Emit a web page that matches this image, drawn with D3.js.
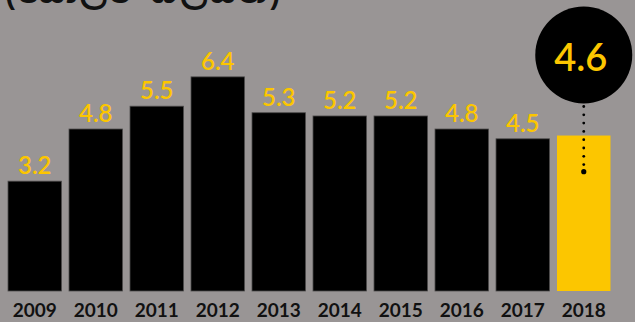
<!DOCTYPE html>
<html>
<head>
<meta charset="utf-8">
<script src="https://cdn.jsdelivr.net/npm/d3@7"></script>
<style>
  html, body { margin: 0; padding: 0; background: #999595; }
  svg { display: block; }
</style>
</head>
<body>
<svg id="chart" width="635" height="322"></svg>
<script>
// Annual values, USD billions
const years = ["2009", "2010", "2011", "2012", "2013", "2014", "2015", "2016", "2017", "2018"];
const values = [3.2, 4.8, 5.5, 6.4, 5.3, 5.2, 5.2, 4.8, 4.5, 4.6];
const valueLabels = ["3.2", "4.8", "5.5", "6.4", "5.3", "5.2", "5.2", "4.8", "4.5", "4.6"];
const unitTitle = "(ඩොලර් බිලියන)";
const highlightYear = "2018";

const W = 635, H = 322;
const baseline = 291;
const svg = d3.select("#chart");

svg.append("rect").attr("width", W).attr("height", H).attr("fill", "#999595");

const x = d3.scaleBand().domain(years).range([8, 610.5]).paddingInner(0.123).paddingOuter(0);
const y = d3.scaleLinear().domain([0, 7]).range([285.5, 285.5 - 32.6 * 7]);

const data = years.map((yr, i) => ({ year: yr, value: values[i], label: valueLabels[i] }));

// unit title, partly above the top edge
svg.append("text")
  .attr("x", 5).attr("y", 3)
  .attr("font-family", "'Noto Sans Sinhala', 'Noto Sans', sans-serif")
  .attr("font-weight", 700).attr("font-size", 31)
  .attr("letter-spacing", 1.6)
  .attr("fill", "#111")
  .text(unitTitle);

// bars
svg.append("g").selectAll("rect").data(data).join("rect")
  .attr("x", d => x(d.year))
  .attr("y", d => y(d.value))
  .attr("width", x.bandwidth())
  .attr("height", d => baseline - y(d.value))
  .attr("fill", d => d.year === highlightYear ? "#fcc600" : "#000")
  .attr("stroke", d => d.year === highlightYear ? "none" : "#4d4b4b")
  .attr("stroke-width", 0.8);

// value labels above bars (highlighted year gets the bubble instead)
svg.append("g").selectAll("text").data(data.filter(d => d.year !== highlightYear)).join("text")
  .attr("x", d => x(d.year) + x.bandwidth() / 2)
  .attr("y", d => y(d.value) - 7)
  .attr("text-anchor", "middle")
  .attr("font-family", "Lato, 'Open Sans', sans-serif")
  .attr("font-weight", 600)
  .attr("font-size", 24)
  .attr("fill", "#fcc600")
  .text(d => d.label);

// year axis labels
svg.append("g").selectAll("text").data(data).join("text")
  .attr("x", d => x(d.year) + x.bandwidth() / 2)
  .attr("y", 316.5)
  .attr("text-anchor", "middle")
  .attr("font-family", "Lato, 'Open Sans', sans-serif")
  .attr("font-weight", 700)
  .attr("font-size", 19)
  .attr("fill", "#111")
  .text(d => d.year);

// highlight bubble with dotted leader
const hd = data.find(d => d.year === highlightYear);
const cx = x(hd.year) + x.bandwidth() / 2;
const cy = 55, r = 48.5;
const dotEnd = 171.7;
const dotStart = cy + r + 3;
const step = 8.3;
const dots = d3.range(dotStart, dotEnd - 2, step);
svg.append("g").selectAll("circle").data(dots).join("circle")
  .attr("cx", cx).attr("cy", d => d).attr("r", 1.4).attr("fill", "#000");
svg.append("circle").attr("cx", cx).attr("cy", dotEnd).attr("r", 2.6).attr("fill", "#000");

svg.append("circle").attr("cx", cx).attr("cy", cy).attr("r", r).attr("fill", "#000");
svg.append("text")
  .attr("x", cx - 3).attr("y", 70.5)
  .attr("text-anchor", "middle")
  .attr("font-family", "Lato, 'Open Sans', sans-serif")
  .attr("font-weight", 600)
  .attr("font-size", 38)
  .attr("fill", "#fcc600")
  .text(hd.label);
</script>
</body>
</html>
